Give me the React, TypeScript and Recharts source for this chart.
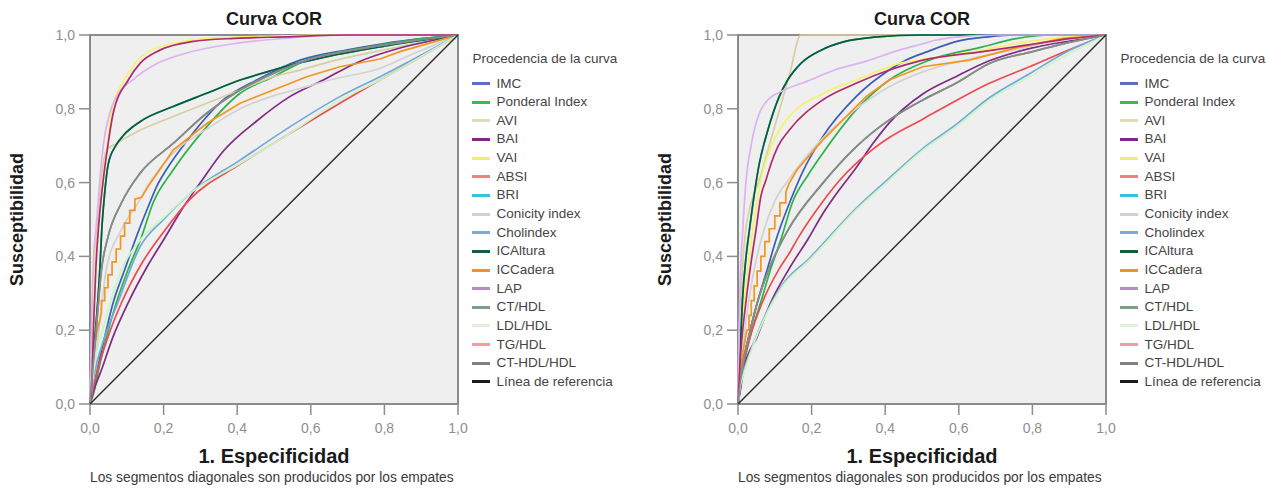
import React from 'react';
import { LineChart, Line, XAxis, YAxis, CartesianGrid, ReferenceArea, Legend } from 'recharts';

type Pt = [number, number];

const FONT = '"Liberation Sans", Arial, Helvetica, sans-serif';

const title = 'Curva COR';
const xTitle = '1. Especificidad';
const yTitle = 'Susceptibilidad';
const footnote = 'Los segmentos diagonales son producidos por los empates';
const legendTitle = 'Procedencia de la curva';
const ticks = [0, 0.2, 0.4, 0.6, 0.8, 1];

const names = [
  'IMC', 'Ponderal Index', 'AVI', 'BAI', 'VAI', 'ABSI', 'BRI', 'Conicity index', 'Cholindex',
  'ICAltura', 'ICCadera', 'LAP', 'CT/HDL', 'LDL/HDL', 'TG/HDL', 'CT-HDL/HDL', 'Línea de referencia',
];
// colours of the curves inside the plot
const lineColors = [
  '#3c5cb8', '#2cb24a', '#d8cfa0', '#7e2a86', '#f6f36a', '#ee4a4f', '#1bbde0', '#d2d2d2', '#73a7da',
  '#0f5a32', '#f7941d', '#dcb2f2', '#5e9474', '#c8f7c2', '#b02a6e', '#8a8a8a', '#2a2a2a',
];
// the legend swatches are a bit paler
const legendColors = [
  '#5a6fbf', '#3cba4e', '#e0dbb8', '#82268a', '#f0ee72', '#f08080', '#2ec4df', '#d0d0d0', '#7aaad8',
  '#14603a', '#f0922a', '#b38fc0', '#7b9e86', '#e0f0dc', '#f49aa4', '#808080', '#1a1a1a',
];

const refLine: Pt[] = [[0, 0], [1, 1]];

// ---- left panel ----
const imcL: Pt[] = [[0, 0], [0.01, 0.04], [0.02, 0.092], [0.04, 0.182], [0.0625, 0.273], [0.094, 0.363], [0.126, 0.453], [0.162, 0.544], [0.181, 0.589], [0.207, 0.634], [0.272, 0.724], [0.362, 0.824], [0.453, 0.878], [0.571, 0.932], [0.7, 0.96], [0.8, 0.977], [0.9, 0.99], [1, 1]];
const ponderalL: Pt[] = [[0, 0], [0.01, 0.03], [0.025, 0.1], [0.045, 0.182], [0.071, 0.273], [0.103, 0.363], [0.14, 0.453], [0.171, 0.544], [0.226, 0.634], [0.317, 0.751], [0.408, 0.842], [0.498, 0.887], [0.589, 0.932], [0.7, 0.958], [0.8, 0.975], [0.9, 0.99], [1, 1]];
const aviL: Pt[] = [[0, 0], [0.01, 0.3], [0.03, 0.6], [0.045, 0.688], [0.07, 0.705], [0.136, 0.742], [0.226, 0.779], [0.317, 0.815], [0.408, 0.851], [0.498, 0.887], [0.571, 0.905], [0.661, 0.93], [0.8, 0.96], [0.9, 0.98], [1, 1]];
const baiL: Pt[] = [[0, 0], [0.008, 0.03], [0.031, 0.092], [0.0625, 0.182], [0.103, 0.273], [0.154, 0.37], [0.2, 0.445], [0.25, 0.528], [0.3, 0.6], [0.362, 0.685], [0.453, 0.767], [0.543, 0.833], [0.634, 0.878], [0.725, 0.925], [0.84, 0.964], [0.93, 0.985], [1, 1]];
const vaiL: Pt[] = [[0, 0], [0.005, 0.2], [0.012, 0.35], [0.022, 0.47], [0.035, 0.61], [0.047, 0.7], [0.058, 0.79], [0.093, 0.878], [0.122, 0.923], [0.167, 0.959], [0.249, 0.982], [0.35, 0.992], [0.5, 0.997], [0.65, 1], [1, 1]];
const absiL: Pt[] = [[0, 0], [0.01, 0.05], [0.049, 0.182], [0.085, 0.273], [0.14, 0.38], [0.203, 0.47], [0.272, 0.555], [0.408, 0.65], [0.543, 0.733], [0.679, 0.815], [0.788, 0.878], [0.88, 0.93], [1, 1]];
const conicityL: Pt[] = [[0, 0], [0.01, 0.08], [0.023, 0.19], [0.044, 0.363], [0.085, 0.472], [0.13, 0.544], [0.167, 0.607], [0.226, 0.68], [0.317, 0.745], [0.408, 0.8], [0.498, 0.835], [0.571, 0.855], [0.66, 0.88], [0.788, 0.91], [0.88, 0.95], [1, 1]];
const cholL: Pt[] = [[0, 0], [0.01, 0.07], [0.04, 0.182], [0.075, 0.273], [0.136, 0.426], [0.2, 0.5], [0.272, 0.571], [0.408, 0.661], [0.543, 0.751], [0.679, 0.833], [0.788, 0.887], [0.88, 0.935], [1, 1]];
const icAlturaL: Pt[] = [[0, 0], [0.005, 0.1], [0.014, 0.19], [0.027, 0.37], [0.032, 0.472], [0.039, 0.562], [0.05, 0.652], [0.07, 0.7], [0.09, 0.727], [0.136, 0.765], [0.226, 0.806], [0.317, 0.842], [0.408, 0.878], [0.498, 0.905], [0.571, 0.925], [0.66, 0.945], [0.8, 0.97], [0.93, 0.99], [1, 1]];
const icCaderaL: Pt[] = [[0, 0], [0.005, 0.1], [0.018, 0.19], [0.031, 0.246], [0.031, 0.28], [0.04, 0.28], [0.04, 0.315], [0.049, 0.315], [0.049, 0.35], [0.06, 0.35], [0.06, 0.385], [0.071, 0.385], [0.071, 0.42], [0.083, 0.42], [0.083, 0.455], [0.094, 0.455], [0.094, 0.49], [0.108, 0.49], [0.108, 0.525], [0.122, 0.525], [0.122, 0.555], [0.14, 0.56], [0.158, 0.59], [0.189, 0.634], [0.226, 0.688], [0.317, 0.76], [0.408, 0.815], [0.498, 0.851], [0.589, 0.887], [0.679, 0.914], [0.788, 0.935], [0.842, 0.955], [0.93, 0.98], [1, 1]];
const lapL: Pt[] = [[0, 0], [0.005, 0.25], [0.01, 0.4], [0.016, 0.47], [0.027, 0.61], [0.036, 0.7], [0.054, 0.79], [0.072, 0.833], [0.118, 0.88], [0.177, 0.92], [0.258, 0.95], [0.394, 0.977], [0.53, 0.991], [0.7, 1], [1, 1]];
const ldlL: Pt[] = [[0, 0], [0.01, 0.09], [0.04, 0.22], [0.085, 0.363], [0.136, 0.444], [0.2, 0.505], [0.272, 0.571], [0.408, 0.652], [0.543, 0.733], [0.679, 0.824], [0.788, 0.878], [0.88, 0.93], [1, 1]];
const tgHdlL: Pt[] = [[0, 0], [0.005, 0.05], [0.01, 0.22], [0.016, 0.37], [0.0226, 0.472], [0.036, 0.607], [0.048, 0.697], [0.063, 0.788], [0.104, 0.878], [0.136, 0.923], [0.19, 0.959], [0.276, 0.982], [0.394, 0.991], [0.53, 0.995], [0.7, 1], [1, 1]];
const ctHdlHdlL: Pt[] = [[0, 0], [0.008, 0.1], [0.016, 0.19], [0.031, 0.363], [0.049, 0.453], [0.085, 0.544], [0.136, 0.625], [0.226, 0.706], [0.317, 0.788], [0.408, 0.851], [0.498, 0.896], [0.6, 0.935], [0.75, 0.965], [0.88, 0.985], [1, 1]];
// BRI and CT/HDL are monotone transforms of ICAltura and CT-HDL/HDL: same curves, hidden underneath
const briL = icAlturaL;
const ctHdlL = ctHdlHdlL;

// ---- right panel ----
const imcR: Pt[] = [[0, 0], [0.005, 0.04], [0.012, 0.1], [0.029, 0.182], [0.052, 0.273], [0.079, 0.363], [0.106, 0.453], [0.142, 0.55], [0.178, 0.634], [0.23, 0.724], [0.321, 0.833], [0.411, 0.905], [0.457, 0.932], [0.515, 0.955], [0.592, 0.982], [0.68, 0.995], [0.755, 1], [1, 1]];
const ponderalR: Pt[] = [[0, 0], [0.005, 0.03], [0.015, 0.1], [0.033, 0.182], [0.061, 0.273], [0.088, 0.363], [0.119, 0.453], [0.147, 0.544], [0.19, 0.62], [0.23, 0.679], [0.321, 0.797], [0.411, 0.878], [0.52, 0.932], [0.665, 0.968], [0.755, 0.99], [0.85, 1], [1, 1]];
const aviR: Pt[] = [[0, 0], [0.004, 0.2], [0.01, 0.33], [0.022, 0.48], [0.06, 0.613], [0.1, 0.753], [0.14, 0.893], [0.171, 1], [1, 1]];
const baiR: Pt[] = [[0, 0], [0.005, 0.03], [0.017, 0.1], [0.052, 0.182], [0.088, 0.273], [0.138, 0.365], [0.192, 0.45], [0.23, 0.515], [0.275, 0.58], [0.321, 0.64], [0.366, 0.705], [0.411, 0.762], [0.502, 0.84], [0.592, 0.887], [0.683, 0.93], [0.8, 0.965], [0.909, 0.985], [1, 1]];
const vaiR: Pt[] = [[0, 0], [0.005, 0.1], [0.017, 0.28], [0.028, 0.38], [0.04, 0.472], [0.062, 0.607], [0.09, 0.697], [0.112, 0.742], [0.139, 0.779], [0.23, 0.841], [0.321, 0.878], [0.438, 0.923], [0.55, 0.94], [0.665, 0.959], [0.755, 0.977], [0.89, 0.994], [1, 1]];
const absiR: Pt[] = [[0, 0], [0.004, 0.04], [0.013, 0.1], [0.033, 0.182], [0.065, 0.273], [0.11, 0.363], [0.139, 0.408], [0.165, 0.453], [0.23, 0.548], [0.275, 0.605], [0.321, 0.652], [0.366, 0.69], [0.411, 0.722], [0.502, 0.772], [0.592, 0.822], [0.683, 0.869], [0.792, 0.914], [0.9, 0.96], [1, 1]];
const conicityR: Pt[] = [[0, 0], [0.01, 0.12], [0.025, 0.25], [0.045, 0.37], [0.07, 0.47], [0.1, 0.55], [0.139, 0.61], [0.23, 0.72], [0.321, 0.8], [0.411, 0.86], [0.502, 0.9], [0.629, 0.935], [0.75, 0.96], [0.88, 0.985], [1, 1]];
const cholR: Pt[] = [[0, 0], [0.005, 0.05], [0.015, 0.09], [0.033, 0.14], [0.07, 0.232], [0.12, 0.322], [0.194, 0.395], [0.321, 0.53], [0.411, 0.612], [0.502, 0.692], [0.592, 0.757], [0.683, 0.83], [0.792, 0.895], [0.9, 0.958], [1, 1]];
const icAlturaR: Pt[] = [[0, 0], [0.004, 0.1], [0.012, 0.28], [0.022, 0.4], [0.031, 0.472], [0.058, 0.652], [0.081, 0.742], [0.112, 0.833], [0.135, 0.878], [0.171, 0.923], [0.226, 0.959], [0.289, 0.982], [0.37, 0.994], [0.5, 1], [1, 1]];
const icCaderaR: Pt[] = [[0, 0], [0.005, 0.08], [0.015, 0.15], [0.024, 0.2], [0.03, 0.2], [0.03, 0.24], [0.036, 0.24], [0.036, 0.28], [0.044, 0.28], [0.044, 0.32], [0.052, 0.32], [0.052, 0.36], [0.062, 0.36], [0.062, 0.4], [0.073, 0.4], [0.073, 0.44], [0.085, 0.44], [0.085, 0.475], [0.1, 0.475], [0.1, 0.51], [0.114, 0.51], [0.114, 0.545], [0.13, 0.545], [0.13, 0.575], [0.139, 0.598], [0.16, 0.634], [0.23, 0.715], [0.275, 0.76], [0.348, 0.833], [0.411, 0.878], [0.502, 0.914], [0.629, 0.932], [0.755, 0.965], [0.88, 0.99], [1, 1]];
const lapR: Pt[] = [[0, 0], [0.002, 0.15], [0.005, 0.3], [0.013, 0.472], [0.022, 0.607], [0.035, 0.697], [0.044, 0.742], [0.058, 0.788], [0.081, 0.824], [0.117, 0.847], [0.189, 0.875], [0.262, 0.905], [0.352, 0.93], [0.425, 0.955], [0.497, 0.975], [0.533, 0.985], [0.6, 0.995], [0.7, 1], [1, 1]];
const ldlR: Pt[] = [[0, 0], [0.005, 0.04], [0.015, 0.08], [0.033, 0.137], [0.07, 0.228], [0.12, 0.318], [0.194, 0.39], [0.321, 0.526], [0.411, 0.607], [0.502, 0.688], [0.592, 0.751], [0.683, 0.824], [0.792, 0.887], [0.9, 0.95], [1, 1]];
const tgHdlR: Pt[] = [[0, 0], [0.005, 0.1], [0.022, 0.28], [0.035, 0.38], [0.049, 0.472], [0.062, 0.562], [0.076, 0.607], [0.09, 0.652], [0.108, 0.697], [0.139, 0.742], [0.23, 0.824], [0.321, 0.869], [0.411, 0.905], [0.502, 0.932], [0.665, 0.955], [0.8, 0.975], [0.9, 0.99], [1, 1]];
const ctHdlHdlR: Pt[] = [[0, 0], [0.005, 0.05], [0.015, 0.12], [0.029, 0.182], [0.052, 0.273], [0.083, 0.363], [0.135, 0.47], [0.23, 0.598], [0.321, 0.697], [0.411, 0.77], [0.502, 0.824], [0.592, 0.869], [0.683, 0.923], [0.8, 0.955], [0.9, 0.98], [1, 1]];
const briR = icAlturaR;
const ctHdlR = ctHdlHdlR;

// same order as the legend (later ones are drawn on top)
const seriesLeft = [imcL, ponderalL, aviL, baiL, vaiL, absiL, briL, conicityL, cholL, icAlturaL, icCaderaL, lapL, ctHdlL, ldlL, tgHdlL, ctHdlHdlL, refLine];
const seriesRight = [imcR, ponderalR, aviR, baiR, vaiR, absiR, briR, conicityR, cholR, icAlturaR, icCaderaR, lapR, ctHdlR, ldlR, tgHdlR, ctHdlHdlR, refLine];

const toXY = (pts: Pt[]) => pts.map(([x, y]) => ({ x, y }));
const fmt = (v: number) => v.toFixed(1).replace('.', ',');

const tickStyle = { fill: '#8e8e8e', fontSize: 14, fontFamily: FONT };
const tickLineStyle = { stroke: '#8e8e8e', strokeWidth: 1.5 };

const LegendBox = () => (
  <div style={{ position: 'relative', width: 180, height: 345, fontFamily: FONT, fontSize: 13.5, color: '#454545' }}>
    <div style={{ position: 'absolute', left: 1, top: 0, lineHeight: '18px', whiteSpace: 'nowrap' }}>{legendTitle}</div>
    {names.map((n, i) => (
      <div
        key={n}
        style={{ position: 'absolute', left: 0, top: 24.5 + i * 18.65, height: 18, lineHeight: '18px', display: 'flex', alignItems: 'center', whiteSpace: 'nowrap' }}
      >
        <span style={{ display: 'inline-block', width: 18, height: 3, background: legendColors[i], marginRight: 7 }} />
        <span>{n}</span>
      </div>
    ))}
  </div>
);

const Panel = ({ series, left }: { series: Pt[][]; left: number }) => (
  <div style={{ position: 'absolute', left, top: 0, width: 649, height: 488 }}>
    <div style={{ position: 'absolute', left: 174, top: 10, width: 200, textAlign: 'center', fontFamily: FONT, fontSize: 18, lineHeight: '18px', fontWeight: 'bold', color: '#1a1a1a' }}>
      {title}
    </div>
    <LineChart width={649} height={488} margin={{ top: 35, right: 191, bottom: 0, left: 0 }}>
      <CartesianGrid fill="#efefef" fillOpacity={1} horizontal={false} vertical={false} />
      <XAxis
        type="number"
        dataKey="x"
        domain={[0, 1]}
        ticks={ticks}
        interval={0}
        tickFormatter={fmt}
        height={84}
        axisLine={false}
        tick={tickStyle}
        tickLine={tickLineStyle}
        tickSize={11}
        tickMargin={8}
        label={{ value: xTitle, position: 'insideBottom', offset: 25, style: { fontSize: 20, fontWeight: 'bold', fill: '#1a1a1a', fontFamily: FONT } }}
      />
      <YAxis
        type="number"
        dataKey="y"
        domain={[0, 1]}
        ticks={ticks}
        interval={0}
        tickFormatter={fmt}
        width={90}
        axisLine={false}
        tick={tickStyle}
        tickLine={tickLineStyle}
        tickSize={11}
        tickMargin={4}
        label={{ value: yTitle, angle: -90, position: 'insideLeft', offset: 17, style: { textAnchor: 'middle', fontSize: 18, fontWeight: 'bold', fill: '#1a1a1a', fontFamily: FONT } }}
      />
      {series.map((pts, i) => (
        <Line
          key={names[i]}
          name={names[i]}
          data={toXY(pts)}
          dataKey="y"
          type={i === 10 || i === 16 ? 'linear' : 'monotone'}
          stroke={lineColors[i]}
          strokeWidth={i === 16 ? 1.4 : 1.7}
          dot={false}
          activeDot={false}
          isAnimationActive={false}
        />
      ))}
      <ReferenceArea x1={0} x2={1} y1={0} y2={1} fill="none" stroke="#8b8b8b" strokeWidth={2} />
      <Legend
        layout="horizontal"
        verticalAlign="middle"
        align="center"
        wrapperStyle={{ left: 471.5, top: 50, width: 180 }}
        content={() => <LegendBox />}
      />
    </LineChart>
    <div style={{ position: 'absolute', left: 90, top: 471, whiteSpace: 'nowrap', fontFamily: FONT, fontSize: 13.8, lineHeight: '14px', color: '#3a3a3a' }}>
      {footnote}
    </div>
  </div>
);

export default function App() {
  return (
    <div style={{ position: 'absolute', left: 0, top: 0, width: 1266, height: 488, overflow: 'hidden', background: '#ffffff' }}>
      <Panel series={seriesLeft} left={0} />
      <Panel series={seriesRight} left={648} />
    </div>
  );
}
